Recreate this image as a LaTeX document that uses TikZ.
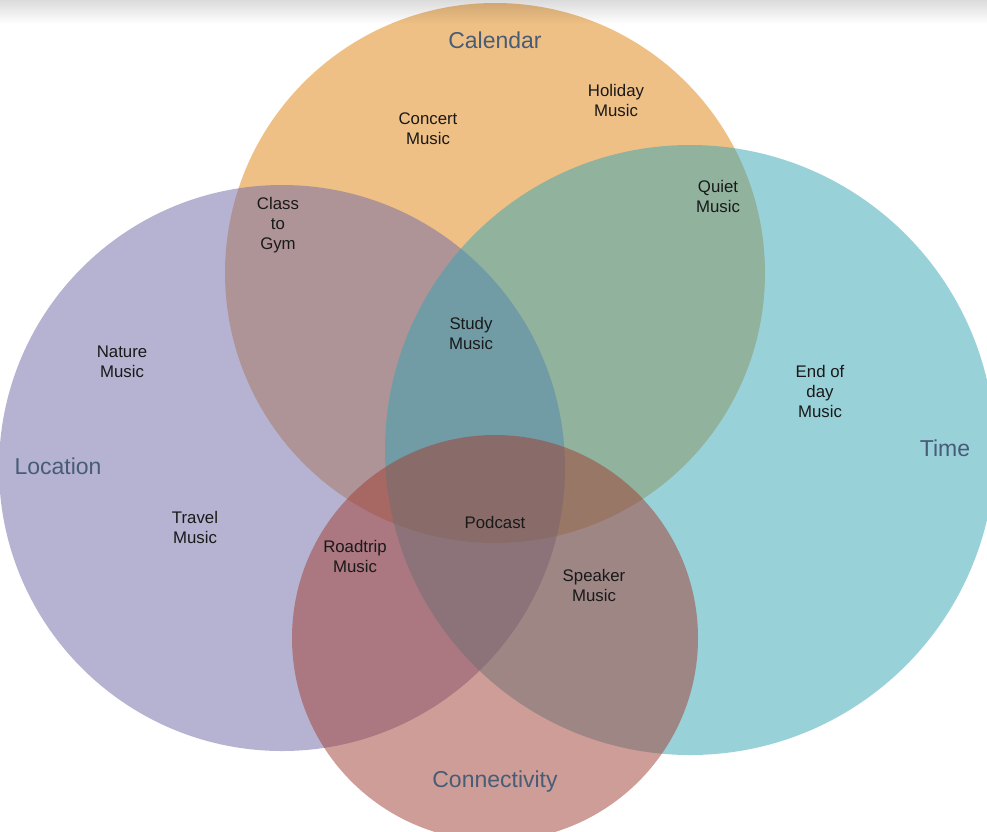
\documentclass[tikz,border=0pt]{standalone}
\usepackage{fontspec}
\setmainfont{Liberation Sans}
\usetikzlibrary{shapes.geometric}
\definecolor{calc}{RGB}{225,131,13}
\definecolor{locc}{RGB}{111,105,167}
\definecolor{timec}{RGB}{53,165,181}
\definecolor{conc}{RGB}{161,61,49}
\definecolor{cattext}{RGB}{72,92,118}
\tikzset{
  setc/.style={circle, inner sep=0pt, fill opacity=0.5, text opacity=1},
  cat/.style={font=\fontsize{23}{27}\selectfont, text=cattext},
  item/.style={font=\fontsize{16.8}{20}\selectfont, align=center, text=black!90},
}
\begin{document}
\begin{tikzpicture}[x=1pt,y=-1pt]
\useasboundingbox (0,0) rectangle (987,831);
\fill[white] (0,0) rectangle (987,831);
\node[setc, fill=calc, minimum size=540pt] (cal) at (495,273) {};
\node[setc, fill=locc, minimum size=566pt] (loc) at (282,468) {};
\node[setc, fill=timec, minimum size=610pt] (tim) at (690,450) {};
\node[setc, fill=conc, minimum size=406pt] (con) at (495,638) {};
\shade[top color=black!14, bottom color=white, blend mode=multiply] (0,0) rectangle (987,24);
% category labels
\node[cat] (lcal) at (495,40) {Calendar};
\node[cat] (lloc) at (58,466) {Location};
\node[cat] (ltim) at (945,448) {Time};
\node[cat] (lcon) at (495,782) {Connectivity};
% items
\node[item] (holiday) at (616,100) {Holiday\\Music};
\node[item] (concert) at (428,129) {Concert\\Music};
\node[item] (quiet) at (718,196) {Quiet\\Music};
\node[item] (gym) at (278,225) {Class\\to\\Gym};
\node[item] (study) at (471,333) {Study\\Music};
\node[item] (nature) at (122,362) {Nature\\Music};
\node[item] (endday) at (820,391) {End of\\day\\Music};
\node[item] (travel) at (195,527) {Travel\\Music};
\node[item] (podcast) at (495,522) {Podcast};
\node[item] (roadtrip) at (355,556) {Roadtrip\\Music};
\node[item] (speaker) at (594,585) {Speaker\\Music};
\end{tikzpicture}
\end{document}
